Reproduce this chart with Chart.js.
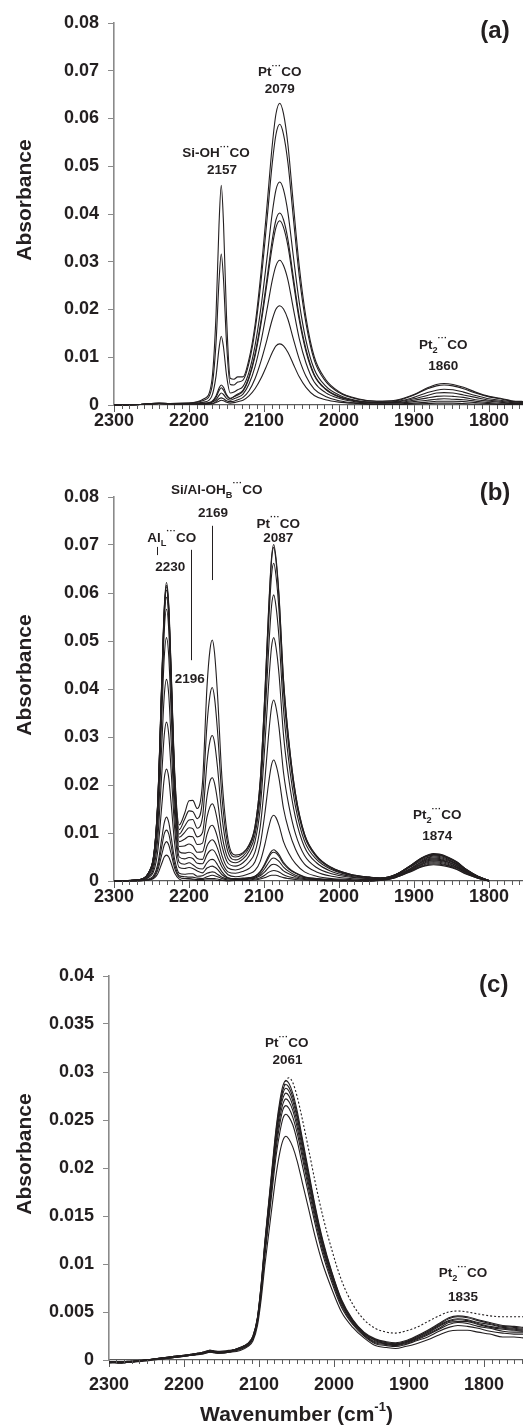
<!DOCTYPE html>
<html><head><meta charset="utf-8">
<script src="https://cdn.jsdelivr.net/npm/chart.js@4.4.1/dist/chart.umd.min.js"></script>
<style>
html,body{margin:0;padding:0;background:#fff;overflow:hidden;}
body{width:523px;height:1427px;position:relative;}
canvas{position:absolute;left:0;}
</style></head><body>
<canvas id="ca" width="523" height="440" style="top:0px"></canvas>
<canvas id="cb" width="523" height="475" style="top:440px"></canvas>
<canvas id="cc" width="523" height="512" style="top:915px"></canvas>
<script>
// ---------- tick values / labels ----------
const xTickVals = [1800, 1900, 2000, 2100, 2200, 2300];
const xTickLabels = ['1800', '1900', '2000', '2100', '2200', '2300'];
const yTickValsAB = [0, 0.01, 0.02, 0.03, 0.04, 0.05, 0.06, 0.07, 0.08];
const yTickLabelsAB = ['0', '0.01', '0.02', '0.03', '0.04', '0.05', '0.06', '0.07', '0.08'];
const yTickValsC = [0, 0.005, 0.01, 0.015, 0.02, 0.025, 0.03, 0.035, 0.04];
const yTickLabelsC = ['0', '0.005', '0.01', '0.015', '0.02', '0.025', '0.03', '0.035', '0.04'];
const yTitle = 'Absorbance';

// ---------- panel (a) ----------
const waveA = [2300,2265,2240,2225,2200,2180,2170,2164,2160,2157,2154,2150,2145,2140,2135,2128,2120,2112,2104,2096,2089,2084,2079,2074,2068,2061,2053,2044,2033,2018,2000,1975,1950,1925,1900,1882,1870,1860,1848,1834,1818,1800,1785,1770,1750];
const a1 = [0,0.0001,0.0004,0.0003,0.0004,0.0013,0.0046,0.0187,0.0377,0.0460,0.0381,0.0187,0.0056,0.0054,0.0059,0.0059,0.0096,0.0167,0.0278,0.0417,0.0544,0.0610,0.0632,0.0610,0.0544,0.0423,0.0291,0.0183,0.0101,0.0054,0.0028,0.0013,0.0008,0.0010,0.0022,0.0036,0.0043,0.0045,0.0043,0.0037,0.0027,0.0018,0.0014,0.0009,0.0007];
const a2 = [0,0.0001,0.0004,0.0003,0.0004,0.0010,0.0033,0.0129,0.0259,0.0316,0.0263,0.0131,0.0043,0.0042,0.0048,0.0052,0.0088,0.0156,0.0259,0.0388,0.0506,0.0567,0.0588,0.0567,0.0506,0.0394,0.0270,0.0171,0.0094,0.0050,0.0026,0.0012,0.0008,0.0009,0.0021,0.0034,0.0040,0.0042,0.0040,0.0034,0.0025,0.0017,0.0013,0.0008,0.0006];
const a3 = [0,0.0001,0.0003,0.0003,0.0003,0.0006,0.0017,0.0060,0.0118,0.0144,0.0121,0.0063,0.0025,0.0027,0.0032,0.0039,0.0069,0.0124,0.0205,0.0308,0.0402,0.0451,0.0467,0.0451,0.0402,0.0313,0.0215,0.0135,0.0075,0.0040,0.0021,0.0009,0.0006,0.0007,0.0016,0.0026,0.0031,0.0033,0.0032,0.0027,0.0020,0.0013,0.0010,0.0007,0.0005];
const a4 = [0,0.0001,0.0003,0.0003,0.0002,0.0004,0.0007,0.0019,0.0035,0.0042,0.0037,0.0022,0.0014,0.0018,0.0023,0.0031,0.0059,0.0107,0.0177,0.0265,0.0346,0.0388,0.0402,0.0388,0.0346,0.0269,0.0185,0.0117,0.0064,0.0034,0.0018,0.0008,0.0005,0.0006,0.0013,0.0020,0.0025,0.0026,0.0025,0.0021,0.0016,0.0010,0.0008,0.0005,0.0004];
const a5 = [0,0.0001,0.0003,0.0003,0.0002,0.0003,0.0006,0.0016,0.0030,0.0036,0.0031,0.0020,0.0013,0.0017,0.0021,0.0029,0.0056,0.0102,0.0170,0.0255,0.0332,0.0372,0.0386,0.0372,0.0332,0.0259,0.0178,0.0112,0.0062,0.0033,0.0017,0.0008,0.0005,0.0005,0.0010,0.0015,0.0018,0.0019,0.0018,0.0016,0.0011,0.0008,0.0006,0.0004,0.0003];
const a6 = [0,0.0001,0.0003,0.0002,0.0001,0.0002,0.0005,0.0011,0.0020,0.0025,0.0022,0.0014,0.0010,0.0013,0.0016,0.0023,0.0044,0.0080,0.0133,0.0200,0.0261,0.0292,0.0303,0.0292,0.0261,0.0203,0.0139,0.0088,0.0048,0.0026,0.0014,0.0006,0.0004,0.0004,0.0007,0.0010,0.0012,0.0013,0.0012,0.0011,0.0008,0.0005,0.0004,0.0003,0.0002];
const a7 = [0,0.0001,0.0003,0.0002,0.0001,0.0002,0.0003,0.0007,0.0013,0.0015,0.0013,0.0009,0.0007,0.0008,0.0011,0.0016,0.0030,0.0055,0.0092,0.0137,0.0179,0.0201,0.0208,0.0201,0.0179,0.0139,0.0096,0.0060,0.0033,0.0018,0.0009,0.0004,0.0002,0.0002,0.0004,0.0006,0.0008,0.0008,0.0008,0.0007,0.0005,0.0003,0.0002,0.0002,0.0001];
const a8 = [0,0.0001,0.0003,0.0002,0.0001,0.0001,0.0002,0.0005,0.0008,0.0010,0.0009,0.0006,0.0004,0.0005,0.0007,0.0010,0.0019,0.0034,0.0056,0.0084,0.0110,0.0124,0.0128,0.0124,0.0110,0.0086,0.0059,0.0037,0.0020,0.0011,0.0006,0.0003,0.0001,0.0001,0.0002,0.0003,0.0004,0.0004,0.0004,0.0003,0.0002,0.0002,0.0001,0.0001,0.0001];

// ---------- panel (b) ----------
const waveB = [2300,2270,2250,2242,2236,2233,2230,2227,2224,2219,2213,2206,2200,2195,2189,2182,2176,2172,2169,2166,2162,2156,2148,2138,2128,2120,2112,2105,2099,2094,2090,2087,2084,2080,2074,2067,2058,2046,2030,2010,1985,1960,1945,1925,1905,1890,1880,1874,1866,1855,1843,1830,1815,1800];
const b1 = [0,0.0002,0.0031,0.0155,0.0434,0.0570,0.0622,0.0576,0.0450,0.0225,0.0117,0.0140,0.0167,0.0168,0.0151,0.0205,0.0405,0.0482,0.0502,0.0476,0.0389,0.0213,0.0087,0.0054,0.0059,0.0075,0.0114,0.0210,0.0386,0.0561,0.0673,0.0701,0.0673,0.0596,0.0421,0.0294,0.0182,0.0098,0.0053,0.0028,0.0014,0.0008,0.0006,0.0013,0.0032,0.0048,0.0055,0.0057,0.0056,0.0050,0.0040,0.0024,0.0010,0.0001];
const b2 = [0,0.0002,0.0031,0.0154,0.0430,0.0565,0.0616,0.0570,0.0444,0.0218,0.0107,0.0128,0.0146,0.0145,0.0130,0.0169,0.0326,0.0387,0.0403,0.0382,0.0313,0.0174,0.0074,0.0050,0.0057,0.0074,0.0113,0.0209,0.0382,0.0556,0.0667,0.0695,0.0667,0.0591,0.0417,0.0292,0.0181,0.0097,0.0052,0.0028,0.0014,0.0008,0.0006,0.0013,0.0032,0.0048,0.0054,0.0056,0.0055,0.0049,0.0039,0.0024,0.0010,0.0001];
const b3 = [0,0.0002,0.0030,0.0153,0.0427,0.0561,0.0613,0.0566,0.0440,0.0212,0.0098,0.0114,0.0127,0.0128,0.0110,0.0133,0.0247,0.0292,0.0303,0.0289,0.0237,0.0134,0.0060,0.0044,0.0052,0.0069,0.0107,0.0199,0.0364,0.0530,0.0636,0.0662,0.0636,0.0563,0.0397,0.0278,0.0172,0.0093,0.0050,0.0026,0.0013,0.0008,0.0006,0.0013,0.0031,0.0047,0.0053,0.0055,0.0054,0.0048,0.0039,0.0023,0.0010,0.0001];
const b4 = [0,0.0002,0.0030,0.0151,0.0423,0.0556,0.0606,0.0560,0.0434,0.0206,0.0091,0.0101,0.0111,0.0109,0.0092,0.0101,0.0176,0.0208,0.0215,0.0204,0.0168,0.0096,0.0047,0.0038,0.0046,0.0062,0.0096,0.0179,0.0328,0.0477,0.0572,0.0596,0.0572,0.0507,0.0358,0.0250,0.0155,0.0083,0.0045,0.0024,0.0012,0.0007,0.0006,0.0013,0.0031,0.0046,0.0052,0.0054,0.0053,0.0048,0.0038,0.0023,0.0010,0.0001];
const b5 = [0,0.0002,0.0029,0.0148,0.0413,0.0542,0.0591,0.0546,0.0422,0.0198,0.0082,0.0087,0.0093,0.0092,0.0076,0.0079,0.0133,0.0155,0.0161,0.0153,0.0125,0.0073,0.0037,0.0031,0.0038,0.0052,0.0082,0.0152,0.0279,0.0406,0.0487,0.0507,0.0487,0.0431,0.0304,0.0213,0.0132,0.0071,0.0038,0.0020,0.0010,0.0006,0.0005,0.0012,0.0030,0.0044,0.0050,0.0052,0.0051,0.0046,0.0036,0.0022,0.0009,0.0001];
const b6 = [0,0.0002,0.0028,0.0142,0.0395,0.0520,0.0566,0.0523,0.0403,0.0187,0.0072,0.0073,0.0077,0.0073,0.0060,0.0061,0.0097,0.0113,0.0116,0.0110,0.0091,0.0053,0.0027,0.0023,0.0028,0.0039,0.0060,0.0113,0.0207,0.0302,0.0362,0.0377,0.0362,0.0320,0.0226,0.0158,0.0098,0.0053,0.0028,0.0015,0.0008,0.0005,0.0004,0.0011,0.0029,0.0042,0.0049,0.0050,0.0049,0.0044,0.0035,0.0021,0.0009,0.0001];
const b7 = [0,0.0002,0.0025,0.0127,0.0354,0.0466,0.0507,0.0468,0.0360,0.0165,0.0061,0.0058,0.0060,0.0057,0.0047,0.0045,0.0073,0.0083,0.0086,0.0082,0.0068,0.0039,0.0019,0.0016,0.0020,0.0026,0.0040,0.0076,0.0139,0.0202,0.0242,0.0252,0.0242,0.0214,0.0151,0.0106,0.0066,0.0035,0.0019,0.0010,0.0005,0.0003,0.0004,0.0011,0.0026,0.0040,0.0047,0.0048,0.0047,0.0042,0.0034,0.0020,0.0009,0];
const b8 = [0,0.0002,0.0021,0.0105,0.0294,0.0386,0.0420,0.0388,0.0298,0.0136,0.0050,0.0046,0.0049,0.0047,0.0037,0.0036,0.0055,0.0063,0.0065,0.0062,0.0050,0.0029,0.0013,0.0009,0.0011,0.0015,0.0022,0.0041,0.0075,0.0110,0.0132,0.0137,0.0132,0.0116,0.0082,0.0058,0.0036,0.0019,0.0010,0.0005,0.0003,0.0001,0.0003,0.0009,0.0025,0.0039,0.0045,0.0046,0.0045,0.0040,0.0032,0.0019,0.0008,0];
const b9 = [0,0.0001,0.0016,0.0082,0.0231,0.0304,0.0331,0.0305,0.0234,0.0108,0.0039,0.0035,0.0038,0.0034,0.0027,0.0025,0.0038,0.0044,0.0045,0.0043,0.0034,0.0019,0.0007,0.0005,0.0006,0.0007,0.0010,0.0020,0.0036,0.0052,0.0062,0.0065,0.0062,0.0055,0.0039,0.0027,0.0017,0.0009,0.0005,0.0003,0.0001,0.0001,0.0002,0.0009,0.0024,0.0037,0.0043,0.0044,0.0043,0.0039,0.0031,0.0018,0.0008,0];
const b10 = [0,0.0001,0.0012,0.0058,0.0162,0.0214,0.0233,0.0215,0.0165,0.0076,0.0028,0.0026,0.0028,0.0026,0.0021,0.0017,0.0027,0.0030,0.0031,0.0029,0.0024,0.0013,0.0006,0.0004,0.0005,0.0006,0.0010,0.0018,0.0033,0.0048,0.0058,0.0060,0.0058,0.0051,0.0036,0.0025,0.0016,0.0008,0.0005,0.0002,0.0001,0.0001,0.0002,0.0008,0.0023,0.0035,0.0041,0.0042,0.0041,0.0037,0.0029,0.0018,0.0008,0];
const b11 = [0,0.0001,0.0007,0.0033,0.0092,0.0121,0.0133,0.0122,0.0094,0.0044,0.0016,0.0014,0.0015,0.0015,0.0010,0.0011,0.0016,0.0018,0.0019,0.0018,0.0014,0.0008,0.0004,0.0003,0.0003,0.0005,0.0008,0.0014,0.0026,0.0038,0.0046,0.0048,0.0046,0.0041,0.0029,0.0020,0.0012,0.0007,0.0004,0.0002,0.0001,0,0.0002,0.0008,0.0022,0.0034,0.0039,0.0040,0.0039,0.0035,0.0028,0.0017,0.0007,0];
const b12 = [0,0,0.0005,0.0027,0.0074,0.0098,0.0106,0.0098,0.0075,0.0034,0.0011,0.0009,0.0008,0.0008,0.0006,0.0005,0.0009,0.0011,0.0012,0.0011,0.0009,0.0005,0.0002,0.0002,0.0002,0.0004,0.0006,0.0011,0.0019,0.0028,0.0034,0.0035,0.0034,0.0030,0.0021,0.0015,0.0009,0.0005,0.0003,0.0001,0.0001,0,0.0002,0.0008,0.0021,0.0032,0.0037,0.0038,0.0037,0.0033,0.0027,0.0016,0.0007,0];
const b13 = [0,0,0.0004,0.0021,0.0057,0.0075,0.0082,0.0075,0.0058,0.0026,0.0008,0.0005,0.0005,0.0004,0.0003,0.0003,0.0005,0.0005,0.0005,0.0005,0.0004,0.0002,0.0001,0.0001,0.0002,0.0002,0.0004,0.0007,0.0012,0.0018,0.0021,0.0022,0.0021,0.0019,0.0013,0.0009,0.0006,0.0003,0.0002,0.0001,0,0,0.0001,0.0007,0.0020,0.0030,0.0035,0.0036,0.0035,0.0032,0.0025,0.0015,0.0006,0];
const b14 = [0,0,0.0003,0.0014,0.0038,0.0050,0.0054,0.0050,0.0038,0.0016,0.0004,0.0001,0.0002,0.0002,0.0001,0.0001,0.0002,0.0002,0.0002,0.0002,0.0001,0.0001,0,0.0001,0.0001,0.0001,0.0002,0.0004,0.0007,0.0010,0.0012,0.0012,0.0012,0.0010,0.0007,0.0005,0.0003,0.0002,0.0001,0,0,0,0.0001,0.0007,0.0019,0.0029,0.0033,0.0034,0.0033,0.0030,0.0024,0.0014,0.0006,0];

// ---------- panel (c) ----------
const waveC = [2300,2285,2270,2250,2230,2210,2190,2175,2165,2155,2140,2125,2115,2108,2102,2097,2092,2087,2082,2077,2072,2068,2064,2060,2055,2049,2042,2034,2025,2015,2003,1990,1975,1960,1945,1930,1918,1905,1890,1875,1860,1847,1835,1822,1808,1792,1775,1760,1748];
const c1 = [-0.0002,-0.0003,-0.0002,0.0000,0.0002,0.0004,0.0006,0.0008,0.0010,0.0008,0.0009,0.0013,0.0017,0.0025,0.0045,0.0080,0.0125,0.0165,0.0205,0.0243,0.0271,0.0286,0.0291,0.0288,0.0278,0.0259,0.0230,0.0197,0.0160,0.0125,0.0092,0.0063,0.0042,0.0029,0.0022,0.0019,0.0018,0.0020,0.0025,0.0031,0.0038,0.0044,0.0046,0.0045,0.0042,0.0039,0.0036,0.0035,0.0034];
const c2 = [-0.0002,-0.0003,-0.0002,0.0000,0.0002,0.0004,0.0006,0.0008,0.0009,0.0008,0.0009,0.0013,0.0017,0.0025,0.0044,0.0079,0.0123,0.0163,0.0202,0.0240,0.0267,0.0282,0.0287,0.0284,0.0274,0.0255,0.0227,0.0194,0.0158,0.0123,0.0091,0.0062,0.0041,0.0028,0.0021,0.0018,0.0017,0.0019,0.0024,0.0030,0.0037,0.0043,0.0045,0.0044,0.0041,0.0038,0.0035,0.0034,0.0033];
const c3 = [-0.0003,-0.0003,-0.0002,0.0000,0.0001,0.0003,0.0006,0.0007,0.0009,0.0008,0.0009,0.0013,0.0017,0.0024,0.0044,0.0078,0.0122,0.0161,0.0199,0.0236,0.0264,0.0278,0.0283,0.0280,0.0270,0.0252,0.0224,0.0192,0.0156,0.0122,0.0090,0.0061,0.0041,0.0028,0.0021,0.0018,0.0017,0.0019,0.0024,0.0029,0.0036,0.0041,0.0043,0.0042,0.0039,0.0037,0.0034,0.0033,0.0032];
const c4 = [-0.0002,-0.0002,-0.0001,0.0000,0.0002,0.0004,0.0005,0.0008,0.0010,0.0009,0.0010,0.0012,0.0016,0.0024,0.0043,0.0076,0.0119,0.0158,0.0196,0.0232,0.0259,0.0273,0.0278,0.0275,0.0265,0.0247,0.0220,0.0188,0.0153,0.0119,0.0088,0.0060,0.0040,0.0028,0.0020,0.0017,0.0016,0.0018,0.0023,0.0028,0.0035,0.0040,0.0042,0.0041,0.0038,0.0035,0.0033,0.0032,0.0031];
const c5 = [-0.0003,-0.0002,-0.0002,-0.0001,0.0001,0.0003,0.0005,0.0007,0.0009,0.0007,0.0008,0.0012,0.0016,0.0023,0.0042,0.0075,0.0117,0.0154,0.0192,0.0227,0.0253,0.0267,0.0272,0.0269,0.0260,0.0242,0.0215,0.0184,0.0150,0.0117,0.0086,0.0059,0.0039,0.0027,0.0019,0.0017,0.0016,0.0018,0.0022,0.0027,0.0033,0.0039,0.0040,0.0040,0.0037,0.0034,0.0032,0.0031,0.0030];
const c6 = [-0.0002,-0.0003,-0.0002,0.0000,0.0002,0.0003,0.0005,0.0007,0.0009,0.0008,0.0009,0.0012,0.0015,0.0023,0.0041,0.0073,0.0114,0.0150,0.0187,0.0221,0.0247,0.0261,0.0265,0.0262,0.0253,0.0236,0.0210,0.0179,0.0146,0.0114,0.0084,0.0057,0.0038,0.0026,0.0018,0.0016,0.0015,0.0017,0.0021,0.0026,0.0032,0.0037,0.0039,0.0038,0.0035,0.0033,0.0030,0.0029,0.0029];
const c7 = [-0.0002,-0.0002,-0.0002,0.0000,0.0001,0.0003,0.0005,0.0007,0.0008,0.0007,0.0008,0.0011,0.0015,0.0022,0.0040,0.0070,0.0110,0.0145,0.0180,0.0214,0.0238,0.0252,0.0256,0.0253,0.0245,0.0228,0.0202,0.0173,0.0141,0.0110,0.0081,0.0055,0.0037,0.0025,0.0017,0.0015,0.0014,0.0016,0.0020,0.0024,0.0030,0.0034,0.0036,0.0035,0.0033,0.0030,0.0028,0.0027,0.0027];
const c8 = [-0.0002,-0.0002,-0.0001,0.0000,0.0002,0.0003,0.0005,0.0006,0.0008,0.0007,0.0008,0.0010,0.0014,0.0020,0.0036,0.0064,0.0100,0.0132,0.0164,0.0194,0.0217,0.0229,0.0233,0.0230,0.0222,0.0207,0.0184,0.0158,0.0128,0.0100,0.0074,0.0050,0.0034,0.0023,0.0015,0.0013,0.0012,0.0014,0.0017,0.0021,0.0026,0.0030,0.0031,0.0031,0.0029,0.0027,0.0024,0.0024,0.0023];
const cDot = [-0.0002,-0.0003,-0.0002,0.0000,0.0002,0.0004,0.0006,0.0008,0.0010,0.0008,0.0009,0.0013,0.0017,0.0023,0.0040,0.0070,0.0112,0.0152,0.0192,0.0230,0.0262,0.0280,0.0291,0.0294,0.0289,0.0274,0.0250,0.0220,0.0185,0.0150,0.0115,0.0083,0.0058,0.0042,0.0033,0.0029,0.0028,0.0030,0.0034,0.0040,0.0046,0.0050,0.0051,0.0050,0.0048,0.0046,0.0045,0.0045,0.0045];

// ---------- drawing ----------
const INK = '#231f20';
const AXIS_Y = '#8a8a8a';
const AXIS_X = '#5a5a5a';
const FONT = "'Liberation Sans', Arial, Helvetica, sans-serif";

function drawRich(ctx, x, y, parts, size) {
  const spec = k => k === 'sub' ? {s: size * 0.68, dy: size * 0.4}
    : k === 'sup' ? {s: size * 0.72, dy: -size * 0.45}
    : k === 'sup2' ? {s: size * 0.62, dy: -size * 0.36}
    : {s: size, dy: 0};
  let total = 0;
  const items = parts.map(p => {
    const sp = spec(p[1]);
    ctx.font = 'bold ' + sp.s + 'px ' + FONT;
    const w = ctx.measureText(p[0]).width;
    total += w;
    return {t: p[0], sp, w};
  });
  let cx = x - total / 2;
  ctx.textAlign = 'left';
  ctx.textBaseline = 'middle';
  items.forEach(it => {
    ctx.font = 'bold ' + it.sp.s + 'px ' + FONT;
    ctx.fillText(it.t, cx, y + it.sp.dy);
    cx += it.w;
  });
}

const extrasPlugin = {
  id: 'extras',
  afterDraw(chart, args, o) {
    const ctx = chart.ctx, xs = chart.scales.x, ys = chart.scales.y, ca = chart.chartArea;
    ctx.save();
    ctx.strokeStyle = AXIS_X;
    ctx.lineWidth = 1;
    for (let v = 1750; v < 2300; v += 10) {
      if (v % 100 === 0) continue;
      const px = xs.getPixelForValue(v);
      if (px < ca.left - 0.5 || px > ca.right + 0.5) continue;
      const xx = Math.round(px) + 0.5;
      ctx.beginPath(); ctx.moveTo(xx, ca.bottom); ctx.lineTo(xx, ca.bottom + 4); ctx.stroke();
    }
    ctx.strokeStyle = INK;
    (o.lines || []).forEach(l => {
      const xx = Math.round(xs.getPixelForValue(l.w)) + 0.5;
      ctx.beginPath();
      ctx.moveTo(xx, ys.getPixelForValue(l.a1));
      ctx.lineTo(xx, ys.getPixelForValue(l.a2));
      ctx.stroke();
    });
    ctx.fillStyle = INK;
    (o.labels || []).forEach(l => drawRich(ctx, xs.getPixelForValue(l.w), ys.getPixelForValue(l.a), l.parts, l.size || 13.5));
    ctx.save();
    ctx.translate(25, (ca.top + ca.bottom) / 2 - 14);
    ctx.rotate(-Math.PI / 2);
    ctx.font = 'bold 21px ' + FONT;
    ctx.textAlign = 'center';
    ctx.textBaseline = 'middle';
    ctx.fillText(yTitle, 0, 0);
    ctx.restore();
    if (o.xTitle) {
      drawRich(ctx, xs.getPixelForValue(o.xTitle.w), ca.bottom + o.xTitle.dy,
        [['Wavenumber (cm', ''], ['-1', 'sup2'], [')', '']], 21);
    }
    ctx.restore();
  }
};

function makeChart(id, cfg) {
  cfg.series.forEach((s, i) => {
    if (s.length !== cfg.wave.length) throw new Error(id + ' series ' + i + ' length ' + s.length + ' vs ' + cfg.wave.length);
  });
  const datasets = cfg.series.map((s, i) => ({
    data: cfg.wave.map((w, j) => ({x: w, y: s[j]})),
    borderColor: INK,
    borderWidth: 1.1,
    borderDash: (cfg.dashed && cfg.dashed[i]) ? [2, 2] : [],
    pointRadius: 0,
    fill: false,
    clip: false,
    cubicInterpolationMode: 'monotone'
  }));
  return new Chart(document.getElementById(id), {
    type: 'line',
    data: {datasets},
    options: {
      responsive: false,
      animation: false,
      devicePixelRatio: 1,
      events: [],
      layout: {padding: {top: cfg.padTop, left: 0, right: 0, bottom: 0}},
      plugins: {legend: {display: false}, tooltip: {enabled: false}, extras: cfg.extras},
      scales: {
        x: {
          type: 'linear', reverse: true, min: cfg.xMin, max: 2300,
          afterBuildTicks: sc => { sc.ticks = xTickVals.map(v => ({value: v})); },
          afterFit: sc => { sc.height = cfg.xH; },
          ticks: {
            font: {family: FONT, size: 18, weight: 'bold', lineHeight: 1},
            color: INK, padding: cfg.xPad, maxRotation: 0, autoSkip: false,
            callback: (v, i) => xTickLabels[i]
          },
          grid: {drawOnChartArea: false, drawTicks: true, tickLength: 7, color: AXIS_X, tickColor: AXIS_X, lineWidth: 1},
          border: {display: true, color: AXIS_X, width: 1.2}
        },
        y: {
          type: 'linear', min: 0, max: cfg.yMax,
          afterBuildTicks: sc => { sc.ticks = cfg.yVals.map(v => ({value: v})); },
          afterFit: sc => { sc.width = cfg.yW; },
          ticks: {
            font: {family: FONT, size: 18, weight: 'bold'},
            color: INK, padding: 9,
            callback: (v, i) => cfg.yLabels[i]
          },
          grid: {drawOnChartArea: false, drawTicks: true, tickLength: 6, color: AXIS_Y, tickColor: AXIS_Y, lineWidth: 1},
          border: {display: true, color: AXIS_Y, width: 1.6}
        }
      }
    },
    plugins: [extrasPlugin]
  });
}

const PT = [['Pt'], ['\u00b7\u00b7\u00b7', 'sup'], ['CO']];
const PT2 = [['Pt'], ['2', 'sub'], ['\u00b7\u00b7\u00b7', 'sup'], ['CO']];

makeChart('ca', {
  wave: waveA, series: [a1, a2, a3, a4, a5, a6, a7, a8],
  padTop: 23, xH: 35, yW: 114, xMin: 1754.67, xPad: 0, yMax: 0.08,
  yVals: yTickValsAB, yLabels: yTickLabelsAB,
  extras: {
    labels: [
      {w: 2079, a: 0.0697, parts: PT},
      {w: 2079, a: 0.0661, parts: [['2079']]},
      {w: 2164, a: 0.0527, parts: [['Si-OH'], ['\u00b7\u00b7\u00b7', 'sup'], ['CO']]},
      {w: 2156, a: 0.0492, parts: [['2157']]},
      {w: 1861, a: 0.0126, parts: PT2},
      {w: 1861, a: 0.0082, parts: [['1860']]},
      {w: 1792, a: 0.0782, parts: [['(a)']], size: 24}
    ]
  }
});

makeChart('cb', {
  wave: waveB, series: [b1, b2, b3, b4, b5, b6, b7, b8, b9, b10, b11, b12, b13, b14],
  padTop: 57, xH: 34, yW: 114, xMin: 1754.67, xPad: 0, yMax: 0.08,
  yVals: yTickValsAB, yLabels: yTickLabelsAB,
  extras: {
    labels: [
      {w: 2163, a: 0.0815, parts: [['Si/Al-OH'], ['B', 'sub'], ['\u00b7\u00b7\u00b7', 'sup'], ['CO']]},
      {w: 2168, a: 0.0767, parts: [['2169']]},
      {w: 2081, a: 0.0744, parts: PT},
      {w: 2081, a: 0.0713, parts: [['2087']]},
      {w: 2223, a: 0.0715, parts: [['Al'], ['L', 'sub'], ['\u00b7\u00b7\u00b7', 'sup'], ['CO']]},
      {w: 2225, a: 0.0654, parts: [['2230']]},
      {w: 2199, a: 0.0421, parts: [['2196']]},
      {w: 1869, a: 0.01375, parts: PT2},
      {w: 1869, a: 0.0094, parts: [['1874']]},
      {w: 1792, a: 0.0808, parts: [['(b)']], size: 24}
    ],
    lines: [
      {w: 2169, a1: 0.0740, a2: 0.0627},
      {w: 2197, a1: 0.0690, a2: 0.0460},
      {w: 2243, a1: 0.0696, a2: 0.0679}
    ]
  }
});

makeChart('cc', {
  wave: waveC, series: [c1, c2, c3, c4, c5, c6, c7, c8, cDot],
  dashed: [false, false, false, false, false, false, false, false, true],
  padTop: 61, xH: 67, yW: 109, xMin: 1748, xPad: 9, yMax: 0.04,
  yVals: yTickValsC, yLabels: yTickLabelsC,
  extras: {
    labels: [
      {w: 2063, a: 0.0330, parts: PT},
      {w: 2062, a: 0.03125, parts: [['2061']]},
      {w: 1828, a: 0.00906, parts: PT2},
      {w: 1828, a: 0.00656, parts: [['1835']]},
      {w: 1787, a: 0.0390, parts: [['(c)']], size: 24}
    ],
    xTitle: {w: 2050, dy: 55}
  }
});
</script>
</body></html>
